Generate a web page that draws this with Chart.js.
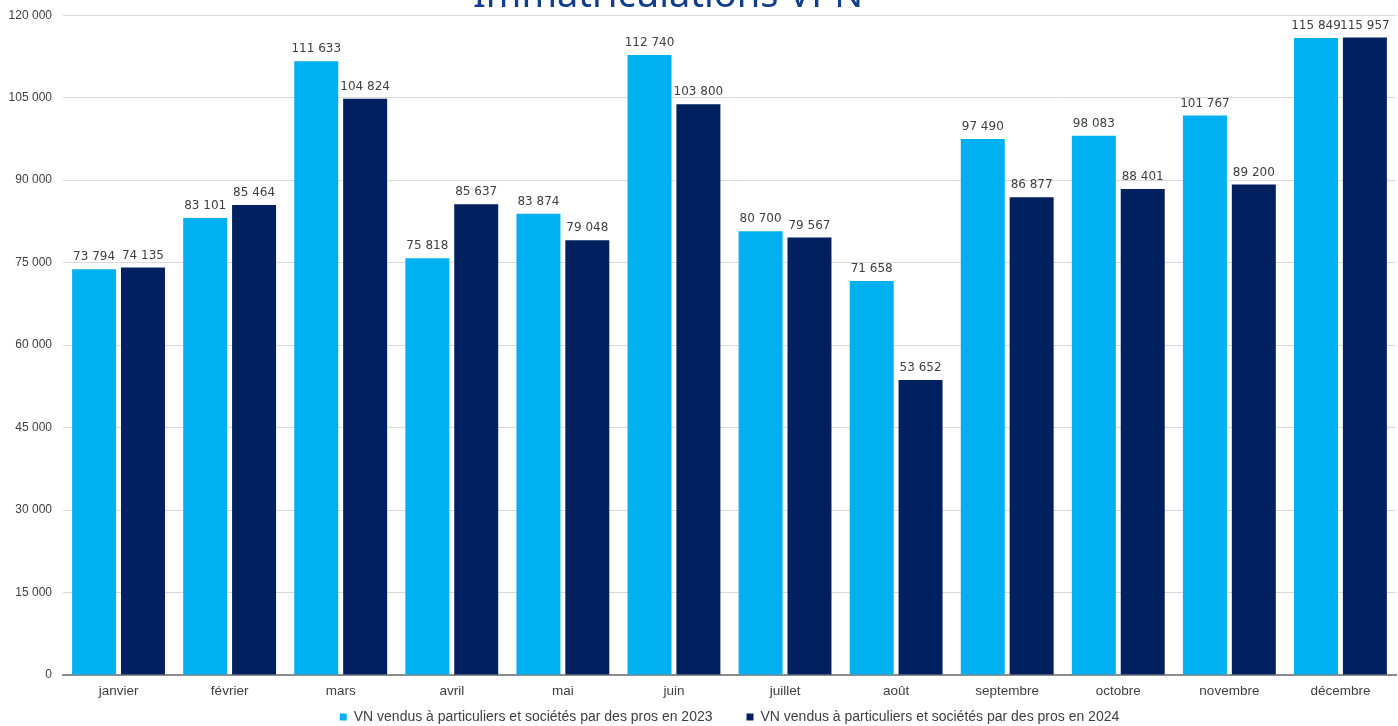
<!DOCTYPE html>
<html lang="fr">
<head>
    <meta charset="UTF-8">
    <title>Immatriculations VPN</title>
    <style>
        html, body { margin: 0; padding: 0; background: #fff; overflow: hidden; }
        #wrap { position: relative; top: -3px; width: 1398px; height: 737px; }
    </style>
</head>
<body>
    <div id="wrap"><canvas id="myChart"></canvas></div>

    <script src="https://cdn.jsdelivr.net/npm/chart.js"></script>
    <script>
        const titre = 'Immatriculations VPN';
        const mois = ['janvier', 'février', 'mars', 'avril', 'mai', 'juin', 'juillet', 'août', 'septembre', 'octobre', 'novembre', 'décembre'];
        const serie2023 = [73794, 83101, 111633, 75818, 83874, 112740, 80700, 71658, 97490, 98083, 101767, 115849];
        const serie2024 = [74135, 85464, 104824, 85637, 79048, 103800, 79567, 53652, 86877, 88401, 89200, 115957];
        const label2023 = 'VN vendus à particuliers et sociétés par des pros en 2023';
        const label2024 = 'VN vendus à particuliers et sociétés par des pros en 2024';

        // 120 000 -> "120 000"
        const fmt = v => String(v).replace(/\B(?=(\d{3})+(?!\d))/g, ' ');

        // titre coupé en haut de l'image + étiquettes de valeurs
        const extras = {
            id: 'extras',
            afterDatasetsDraw(chart) {
                const ctx = chart.ctx;
                ctx.save();
                ctx.font = '12px "DejaVu Sans"';
                ctx.fillStyle = '#404040';
                ctx.textAlign = 'center';
                ctx.textBaseline = 'bottom';
                chart.data.datasets.forEach((ds, i) => {
                    chart.getDatasetMeta(i).data.forEach((bar, j) => {
                        ctx.fillText(fmt(ds.data[j]), bar.x, bar.y - 6);
                    });
                });
                ctx.font = '38px "Noto Sans"';
                ctx.fillStyle = '#123f8c';
                ctx.textBaseline = 'alphabetic';
                ctx.fillText(titre, 668, 10);
                ctx.restore();
            }
        };

        new Chart(document.getElementById('myChart'), {
            type: 'bar',
            data: {
                labels: mois,
                datasets: [
                    { label: label2023, data: serie2023, backgroundColor: '#00B0F0' },
                    { label: label2024, data: serie2024, backgroundColor: '#002060' }
                ]
            },
            options: {
                responsive: true,
                maintainAspectRatio: false,
                animation: false,
                layout: { padding: { top: 12, right: 2, left: 0, bottom: 0 } },
                datasets: { bar: { categoryPercentage: 0.88, barPercentage: 0.9 } },
                plugins: {
                    tooltip: { enabled: false },
                    legend: {
                        position: 'bottom',
                        fullSize: false,
                        labels: {
                            boxWidth: 7,
                            boxHeight: 7,
                            padding: 34,
                            color: '#404040',
                            font: { family: '"Liberation Sans", Arial', size: 14 }
                        }
                    }
                },
                scales: {
                    x: {
                        // labels mirrored + negative padding so the legend can sit close below them
                        afterFit: s => { s.height = 1; },
                        grid: { display: false, drawTicks: false },
                        border: { color: '#8c8c8c', width: 2 },
                        ticks: {
                            mirror: true,
                            padding: -24,
                            color: '#404040',
                            font: { family: '"Liberation Sans", Arial', size: 13.5 }
                        }
                    },
                    y: {
                        min: 0,
                        max: 120000,
                        afterFit: s => { s.width = 63; },
                        grid: { color: '#d9d9d9', drawTicks: false },
                        border: { display: false },
                        ticks: {
                            stepSize: 15000,
                            padding: 11,
                            color: '#404040',
                            font: { family: '"Liberation Sans", Arial', size: 12 },
                            callback: v => fmt(v)
                        }
                    }
                }
            },
            plugins: [extras]
        });
    </script>
</body>
</html>
